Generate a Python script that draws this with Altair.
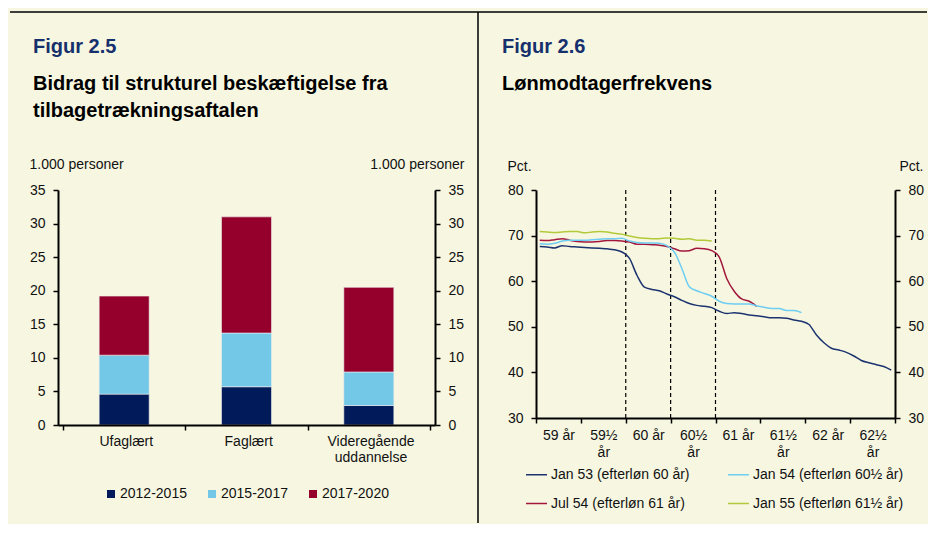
import json
import altair as alt
import pandas as pd

# ---------------- Figur 2.5 data ----------------
categories = ["Ufaglært", "Faglært", "Videregående uddannelse"]
periods = ["2012-2015", "2015-2017", "2017-2020"]
v_2012_2015 = [4.6, 5.7, 2.9]
v_2015_2017 = [5.8, 8.0, 5.0]
v_2017_2020 = [8.8, 17.3, 12.6]
persons_ticks = [0, 5, 10, 15, 20, 25, 30, 35]

# ---------------- Figur 2.6 data ----------------
age_labels = ["59 år", "59½ år", "60 år", "60½ år", "61 år", "61½ år", "62 år", "62½ år"]
series_names = ["Jan 53 (efterløn 60 år)", "Jul 54 (efterløn 61 år)",
                "Jan 54 (efterløn 60½ år)", "Jan 55 (efterløn 61½ år)"]
jan53 = [67.6, 67.5, 67.3, 67.8, 67.6, 67.5, 67.4, 67.3, 67.2, 67.1, 66.9, 66.4,
         65.0, 61.3, 58.7, 58.2, 57.9, 57.2, 56.6, 55.8, 55.1, 54.7, 54.5, 54.2,
         53.4, 52.9, 53.1, 52.9, 52.6, 52.4, 52.2, 52.0, 52.0, 51.9, 51.5, 51.2,
         50.5, 48.2, 46.5, 45.3, 44.9, 44.4, 43.6, 42.6, 42.1, 41.7, 41.3, 40.5]
jul54 = [69.0, 68.9, 69.1, 69.3, 69.0, 68.7, 68.6, 68.6, 68.7, 68.9, 68.9, 68.8,
         68.6, 68.1, 68.1, 68.0, 67.9, 67.6, 67.1, 66.6, 66.7, 67.2, 67.1, 66.7,
         65.3, 60.6, 57.8, 56.1, 55.6, 54.5]
jan54 = [68.2, 68.1, 68.3, 68.8, 69.0, 69.0, 69.0, 69.1, 69.2, 69.3, 69.3, 69.4,
         68.8, 68.5, 68.4, 68.4, 68.3, 67.8, 66.4, 62.8, 58.8, 57.9, 57.3, 56.7,
         55.6, 55.1, 55.0, 55.0, 55.0, 54.6, 54.3, 54.0, 54.0, 53.6, 53.6, 53.1]
jan55 = [70.9, 70.8, 70.7, 70.8, 70.9, 70.9, 70.6, 70.8, 70.9, 70.8, 70.5, 70.3,
         69.9, 69.6, 69.4, 69.3, 69.3, 69.5, 69.4, 69.2, 69.3, 69.0, 69.0, 68.8]
retirement_ages = ["60 år", "60½ år", "61 år"]
pct_ticks = [30, 40, 50, 60, 70, 80]
months_per_step = 6

# ---------------- styles ----------------
FONT = "Liberation Sans"
BG = "#F7F7E1"
TXT = "#111111"
TITLE_NAVY = "#15306C"
bar_colors = ["#001A5A", "#72C8E6", "#94002B"]
line_colors = ["#1C3370", "#A3173D", "#6DCDF2", "#B2CA3A"]
LEFT_W, LEFT_H = 377, 235
RIGHT_W, RIGHT_H = 359, 228

axis_style = dict(domainColor="black", domainWidth=2, tickColor="black", tickWidth=1.5,
                  tickSize=5, labelColor=TXT, labelFontSize=14, labelFont=FONT, grid=False,
                  zindex=1)


def side_axis(orient, values, title, title_x, title_y):
    return alt.Axis(orient=orient, values=values, title=title, titleAngle=0,
                    titleAlign="left" if orient == "left" else "right",
                    titleBaseline="alphabetic", titleX=title_x, titleY=title_y,
                    titleFontSize=14, titleFontWeight="normal", titleColor=TXT,
                    titleFont=FONT, labelPadding=8, **axis_style)


def text_layer(text, x, y, size, weight, color):
    return alt.Chart(pd.DataFrame({"k": [0]})).mark_text(
        align="left", baseline="alphabetic", fontSize=size, fontWeight=weight,
        color=color, font=FONT, lineHeight=27
    ).encode(x=alt.value(x), y=alt.value(y), text=alt.value(text))


one_row = pd.DataFrame({"k": [0]})

# ---------------- left panel ----------------
rows = []
for j, (p, vals) in enumerate(zip(periods, [v_2012_2015, v_2015_2017, v_2017_2020])):
    for i, c in enumerate(categories):
        rows.append({"category": c, "pos": i + 0.5, "period": p, "stack_order": j, "value": vals[i]})
bars_df = pd.DataFrame(rows)

left_label_expr = json.dumps([c.split(" ") if " " in c else c for c in categories] + [""],
                             ensure_ascii=False) + "[datum.value]"

x_left = alt.X("pos:Q", scale=alt.Scale(domain=[0, len(categories)], nice=False, zero=False),
               axis=alt.Axis(values=list(range(len(categories) + 1)), labelExpr=left_label_expr,
                             labelOffset=LEFT_W / len(categories) / 2, labelFlush=False,
                             labelOverlap=False, labelBound=False, labelPadding=4,
                             labelLineHeight=16.5, title=None, **axis_style))

bars = alt.Chart(bars_df).mark_bar(size=50, stroke="#EDEDED", strokeWidth=0.6).encode(
    x=x_left,
    y=alt.Y("value:Q", stack="zero", scale=alt.Scale(domain=[0, 35], nice=False),
            axis=side_axis("left", persons_ticks, "1.000 personer", -29, -22)),
    color=alt.Color("period:N", scale=alt.Scale(domain=periods, range=bar_colors),
                    legend=alt.Legend(title=None, orient="none", legendX=46, legendY=297,
                                      direction="horizontal", symbolType="square",
                                      symbolSize=64, symbolStrokeWidth=0, labelFontSize=14,
                                      labelColor=TXT, labelFont=FONT, labelOffset=2,
                                      columnPadding=18, padding=0)),
    order=alt.Order("stack_order:Q", sort="ascending"),
)

right_axis_left = alt.Chart(bars_df).mark_point(opacity=0).encode(
    y=alt.Y("value:Q", scale=alt.Scale(domain=[0, 35], nice=False),
            axis=side_axis("right", persons_ticks, "1.000 personer", 29, -22)))

decor_top = alt.Chart(one_row).mark_rule(color="black", strokeWidth=1.5).encode(
    x=alt.value(-48), x2=alt.value(869), y=alt.value(-178))

left = alt.layer(
    decor_top, bars, right_axis_left,
    text_layer("Figur 2.5", -25, -137, 20, "bold", TITLE_NAVY),
    text_layer(["Bidrag til strukturel beskæftigelse fra", "tilbagetrækningsaftalen"],
               -25, -100, 20, "bold", "black"),
).resolve_scale(y="independent").properties(width=LEFT_W, height=LEFT_H)

# ---------------- right panel ----------------
lrows = []
for name, vals in zip(series_names, [jan53, jul54, jan54, jan55]):
    for i, v in enumerate(vals):
        lrows.append({"series": name, "x": (i + 0.5) / months_per_step, "value": v})
line_df = pd.DataFrame(lrows)

rule_df = pd.DataFrame({"x": [age_labels.index(a) for a in retirement_ages],
                        "y0": [min(pct_ticks)] * len(retirement_ages),
                        "y1": [max(pct_ticks)] * len(retirement_ages)})

right_label_expr = json.dumps([a.split(" ") if "½" in a else a for a in age_labels] + [""],
                              ensure_ascii=False) + "[datum.value]"

x_right = alt.X("x:Q", scale=alt.Scale(domain=[0, len(age_labels)], nice=False, zero=False),
                axis=alt.Axis(values=list(range(len(age_labels) + 1)), labelExpr=right_label_expr,
                              labelOffset=RIGHT_W / len(age_labels) / 2, labelFlush=False,
                              labelOverlap=False, labelBound=False, labelPadding=5,
                              labelLineHeight=17, title=None, **axis_style))

lines = alt.Chart(line_df).mark_line(strokeWidth=1.5, interpolate="monotone").encode(
    x=x_right,
    y=alt.Y("value:Q", scale=alt.Scale(domain=[30, 80], nice=False, zero=False),
            axis=side_axis("left", pct_ticks, "Pct.", -29, -20)),
    color=alt.Color("series:N", scale=alt.Scale(domain=series_names, range=line_colors),
                    legend=alt.Legend(title=None, orient="none", legendX=-11, legendY=273,
                                      columns=2, symbolType="stroke", symbolSize=441,
                                      symbolStrokeWidth=1.5, labelFontSize=14,
                                      labelColor=TXT, labelFont=FONT, labelOffset=3,
                                      columnPadding=35, rowPadding=10, padding=0)),
)

dashes = alt.Chart(rule_df).mark_rule(color="black", strokeWidth=1.2, strokeDash=[4, 3]).encode(
    x=alt.X("x:Q"),
    y=alt.Y("y0:Q", scale=alt.Scale(domain=[30, 80], nice=False, zero=False),
            axis=side_axis("right", pct_ticks, "Pct.", 28, -20)),
    y2="y1:Q",
)

decor_div = alt.Chart(one_row).mark_rule(color="black", strokeWidth=1.5).encode(
    x=alt.value(-58), y=alt.value(-178), y2=alt.value(333))

right = alt.layer(
    decor_div, dashes, lines,
    text_layer("Figur 2.6", -34, -137, 20, "bold", TITLE_NAVY),
    text_layer("Lønmodtagerfrekvens", -34, -100, 20, "bold", "black"),
).resolve_scale(y="independent").properties(width=RIGHT_W, height=RIGHT_H)

chart = alt.hconcat(left, right, spacing=101, bounds="flush").resolve_scale(
    color="independent"
).properties(
    background=BG, padding={"left": 1, "top": 3, "right": 0, "bottom": 0}
).configure(font=FONT).configure_view(stroke=None)

chart.save("out.html", embed_options={"renderer": "svg", "actions": False})
